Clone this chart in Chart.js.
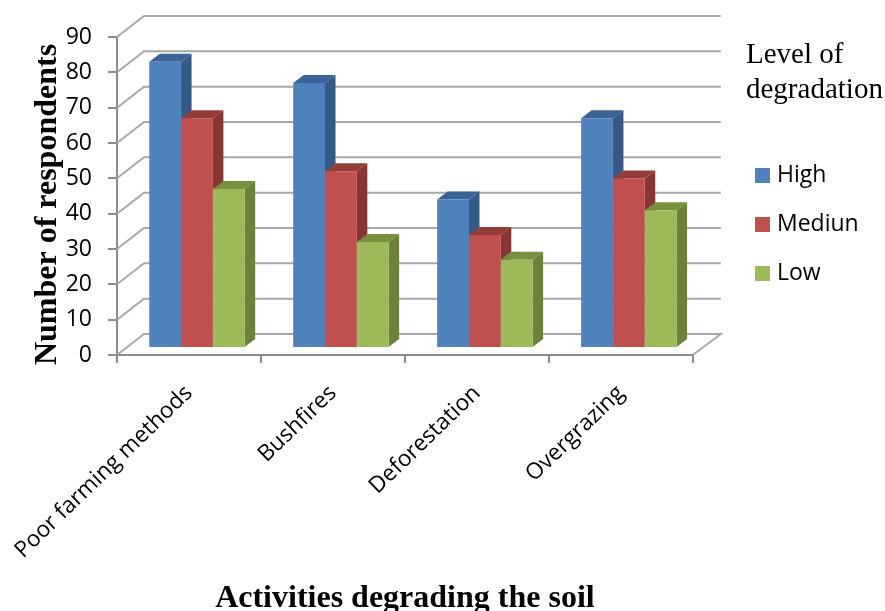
<!DOCTYPE html>
<html>
<head>
<meta charset="utf-8">
<title>Activities degrading the soil</title>
<script src="https://cdn.jsdelivr.net/npm/chart.js@4"></script>
<style>
  html, body { margin: 0; padding: 0; background: #fff; }
  canvas { display: block; }
</style>
</head>
<body>
<canvas id="barChart" width="885" height="611"></canvas>
<script>
const categories = ["Poor farming methods", "Bushfires", "Deforestation", "Overgrazing"];
const highValues = [81, 75, 42, 65];
const mediumValues = [65, 50, 32, 48];
const lowValues = [45, 30, 25, 39];
const yTicks = [0, 10, 20, 30, 40, 50, 60, 70, 80, 90];

const SANS = "'Open Sans'";
const SERIF = "'Liberation Serif'";
const AXIS_COLOR = "#8c8c8c";
const GRID_COLOR = "#a8a8a8";

// the 3D look: how far the back wall and the bars are pushed
const WALL_DX = 27, WALL_DY = 21;
const BAR_SHIFT_X = 8, BAR_SHIFT_Y = 7;
const BAR_DX = 10.5, BAR_DY = 8;

function fillShape(ctx, color, points) {
  ctx.fillStyle = color;
  ctx.beginPath();
  points.forEach((p, i) => (i ? ctx.lineTo(p[0], p[1]) : ctx.moveTo(p[0], p[1])));
  ctx.closePath();
  ctx.fill();
}

const fake3d = {
  id: "fake3d",
  afterLayout(chart) {
    // legend sits further right than the layout puts it
    chart.legend.left = 733.5;
    chart.legend.right = 885;
    chart.legend.top = 138;
    chart.legend.bottom = 330;

    // y title is centred lower than the plot
    const y = chart.scales.y;
    if (!y.titleWrapped) {
      const drawTitle = y.drawTitle;
      y.drawTitle = function () {
        this.bottom += 17;
        drawTitle.call(this);
        this.bottom -= 17;
      };
      y.titleWrapped = true;
    }
  },
  beforeDatasetsDraw(chart) {
    const { ctx, scales: { x, y } } = chart;

    // walls and floor
    ctx.save();
    ctx.strokeStyle = GRID_COLOR;
    ctx.lineWidth = 2;
    yTicks.forEach((v) => {
      const py = y.getPixelForValue(v);
      ctx.beginPath();
      ctx.moveTo(x.left, py);
      ctx.lineTo(x.left + WALL_DX, py - WALL_DY);
      ctx.lineTo(x.right + WALL_DX + 1, py - WALL_DY);
      if (v === 0) ctx.lineTo(x.right, py);
      ctx.stroke();
    });
    ctx.restore();

    // bars are drawn shifted into the floor, restored in afterDatasetsDraw
    ctx.save();
    ctx.translate(BAR_SHIFT_X, -BAR_SHIFT_Y);

    // sides and tops first, so the next bar's front covers them
    chart.data.datasets.forEach((ds, i) => {
      chart.getDatasetMeta(i).data.forEach((bar) => {
        const right = bar.x + bar.width / 2;
        const left = bar.x - bar.width / 2;
        fillShape(ctx, ds.topColor, [
          [left, bar.y], [right, bar.y],
          [right + BAR_DX, bar.y - BAR_DY], [left + BAR_DX, bar.y - BAR_DY],
        ]);
        fillShape(ctx, ds.sideColor, [
          [right, bar.y], [right + BAR_DX, bar.y - BAR_DY],
          [right + BAR_DX, bar.base - BAR_DY], [right, bar.base],
        ]);
      });
    });
  },
  afterDatasetsDraw(chart) {
    chart.ctx.restore();
  },
  afterDraw(chart) {
    const ctx = chart.ctx;
    ctx.save();
    ctx.fillStyle = "#000";
    ctx.font = "29px " + SERIF;
    ctx.textBaseline = "alphabetic";
    ctx.fillText("Level of", 746, 63);
    ctx.fillText("degradation", 746, 98);
    ctx.restore();
  },
};

new Chart(document.getElementById("barChart"), {
  type: "bar",
  plugins: [fake3d],
  data: {
    labels: categories,
    datasets: [
      { label: "High", data: highValues, backgroundColor: "#4f81bd", sideColor: "#355a88", topColor: "#3a6296" },
      { label: "Mediun", data: mediumValues, backgroundColor: "#c0504d", sideColor: "#8a3533", topColor: "#943c3a" },
      { label: "Low", data: lowValues, backgroundColor: "#9bbb59", sideColor: "#6b8239", topColor: "#76903f" },
    ],
  },
  options: {
    responsive: false,
    animation: false,
    layout: { padding: { left: 29, right: 57, top: 37, bottom: 0 } },
    datasets: { bar: { categoryPercentage: 0.663, barPercentage: 1 } },
    plugins: {
      tooltip: { enabled: false },
      legend: {
        position: "right",
        align: "start",
        labels: {
          // small box with a thick same-colour border: keeps the text close to the 15px square
          boxWidth: 6,
          boxHeight: 6,
          padding: 26,
          color: "#000",
          font: { family: SANS, size: 23 },
          generateLabels(chart) {
            return Chart.defaults.plugins.legend.labels.generateLabels(chart).map((item) => ({
              ...item,
              strokeStyle: item.fillStyle,
              lineWidth: 9,
            }));
          },
        },
      },
    },
    scales: {
      x: {
        afterFit(scale) {
          scale.height = 256;
          // long rotated first label must not push the plot to the right
          scale.paddingLeft = 0;
          scale.paddingRight = 0;
        },
        grid: { drawOnChartArea: false, drawTicks: true, tickLength: 8, color: AXIS_COLOR, lineWidth: 2 },
        border: { display: true, color: AXIS_COLOR, width: 2 },
        ticks: {
          autoSkip: false,
          minRotation: 44,
          maxRotation: 44,
          padding: 17,
          color: "#000",
          font: { family: SANS, size: 22.5 },
        },
        title: {
          display: true,
          text: "Activities degrading the soil",
          color: "#000",
          font: { family: SERIF, size: 32, weight: "bold", lineHeight: 0.76 },
          padding: { top: 0, bottom: 0 },
        },
      },
      y: {
        min: 0,
        max: 90,
        afterFit(scale) { scale.width = 88; },
        afterBuildTicks(scale) { scale.ticks = yTicks.map((value) => ({ value })); },
        grid: { drawOnChartArea: false, drawTicks: true, tickLength: 9, color: AXIS_COLOR, lineWidth: 2 },
        border: { display: true, color: AXIS_COLOR, width: 2 },
        ticks: {
          padding: 16,
          color: "#000",
          font: { family: SANS, size: 23 },
        },
        title: {
          display: true,
          text: "Number of respondents",
          color: "#000",
          font: { family: SERIF, size: 32, weight: "bold" },
          padding: { top: 0, bottom: 0 },
        },
      },
    },
  },
});
</script>
</body>
</html>
